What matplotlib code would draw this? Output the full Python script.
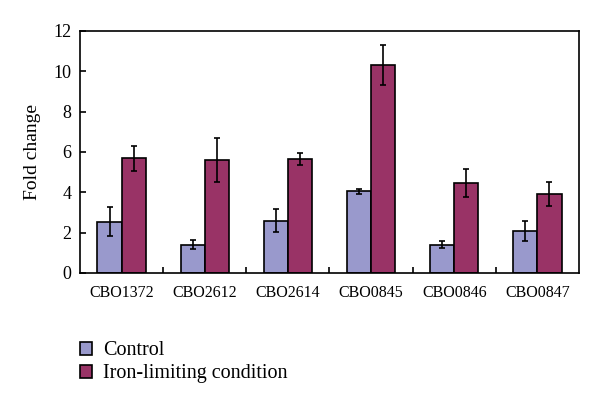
import matplotlib as mpl
mpl.use('Agg')
import matplotlib.pyplot as plt
import numpy as np

genes = ['CBO1372', 'CBO2612', 'CBO2614', 'CBO0845', 'CBO0846', 'CBO0847']
control = [2.55, 1.4, 2.6, 4.05, 1.4, 2.1]
control_err = [0.7, 0.22, 0.55, 0.13, 0.17, 0.5]
iron = [5.68, 5.6, 5.65, 10.32, 4.45, 3.93]
iron_err = [0.62, 1.08, 0.3, 1.0, 0.7, 0.6]

plt.rcParams['font.family'] = ['Liberation Serif', 'DejaVu Serif']

fig = plt.figure(figsize=(6, 4.04), dpi=100)
ax = fig.add_axes([0.1333, 0.3243, 0.8317, 0.599])

x = np.arange(len(genes))
w = 0.29
err_kw = dict(ecolor='black', elinewidth=1.2, capsize=2.5, capthick=1.2)
b1 = ax.bar(x - w/2, control, w, yerr=control_err, color='#9999cc', edgecolor='black',
            linewidth=1.2, error_kw=err_kw, label='Control')
b2 = ax.bar(x + w/2, iron, w, yerr=iron_err, color='#993366', edgecolor='black',
            linewidth=1.2, error_kw=err_kw, label='Iron-limiting condition')

ax.set_xlim(-0.5, len(genes) - 0.5)
ax.set_ylim(0, 12)
ax.set_yticks(range(0, 13, 2))
ax.set_xticks(x)
ax.set_xticklabels(genes, fontsize=11.5)
ax.set_xticks(np.arange(0.5, len(genes) - 0.5, 1), minor=True)
ax.tick_params(axis='x', which='major', length=0, pad=9)
ax.tick_params(axis='x', which='minor', direction='in', length=4, width=1.2)
ax.tick_params(axis='y', direction='in', length=4, width=1.2, labelsize=13, pad=6)
ax.set_ylabel('Fold change', fontsize=14, labelpad=9)
for s in ax.spines.values():
    s.set_linewidth(1.2)

fig.legend(handles=[b1, b2], loc='upper left', bbox_to_anchor=(0.12, 0.175),
           frameon=False, fontsize=14.5, handlelength=0.6, handleheight=0.6,
           handletextpad=0.55, labelspacing=0.2, borderaxespad=0)

fig.savefig('out.png', dpi=100)
plt.close()
